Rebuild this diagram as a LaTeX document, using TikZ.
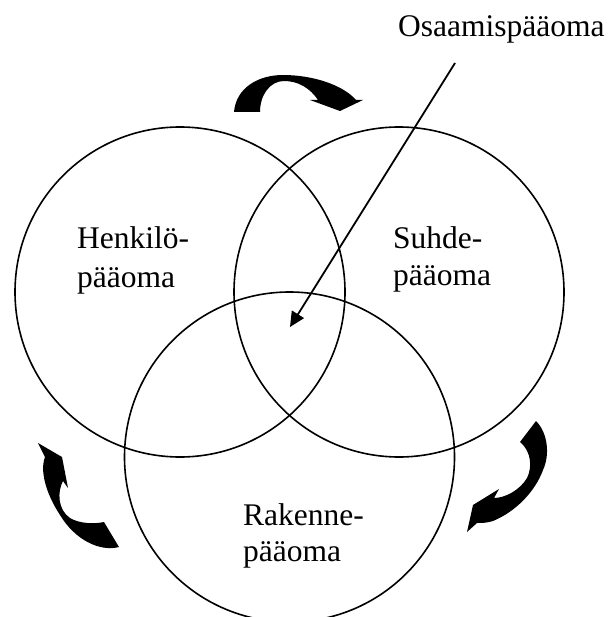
\documentclass[tikz,border=0pt]{standalone}
\usepackage{fontspec}
\setmainfont{Liberation Serif}
\usetikzlibrary{arrows.meta}

\tikzset{
  capital/.style={circle, draw, line width=1.6pt, minimum size=330pt, inner sep=0pt},
  label text/.style={anchor=base west, inner sep=0pt, font=\fontsize{31.5}{37}\selectfont},
  flow arrow/.style={fill=black, draw=none},
  pointer/.style={line width=1.8pt, -{Triangle[length=15pt,width=14pt]}}
}

\begin{document}
\begin{tikzpicture}[x=1pt,y=-1pt]
  \useasboundingbox (0,0) rectangle (610,617);
  \clip (0,0) rectangle (610,617);

  % the three overlapping kinds of capital
  \node[capital] (henk) at (180,292) {};
  \node[capital] (suhde) at (399,292) {};
  \node[capital] (rak) at (289.5,457) {};

  % circle labels
  \node[label text] (henk1) at (77,248) {Henkilö-};
  \node[label text] (henk2) at (77,287) {pääoma};
  \node[label text] (suhde1) at (393,248) {Suhde-};
  \node[label text] (suhde2) at (393,285) {pääoma};
  \node[label text] (rak1) at (243,525) {Rakenne-};
  \node[label text] (rak2) at (243,561) {pääoma};
  \node[label text] (osa) at (398,37) {Osaamispääoma};

  % pointer from the heading into the common centre
  \coordinate (osaStart) at (455,63);
  \coordinate (osaTip) at (290,327);
  \draw[pointer] (osaStart) -- (osaTip);

  % curved arrow over the top, pointing down to the right
  \fill[flow arrow] (234,112) .. controls (236,88) and (258,75) .. (283,75)
    .. controls (313,75) and (343,85) .. (356,100)
    -- (363,100) -- (340,111) -- (310,100) -- (318,100)
    .. controls (310,88) and (298,81) .. (284,81)
    .. controls (270,81) and (260,95) .. (260,112) -- cycle;

  % curved arrow at the lower left, pointing up
  \fill[flow arrow] (38,443) -- (62,457) -- (68,488) -- (63,481)
    .. controls (57,492) and (58,510) .. (70,518)
    .. controls (80,524) and (95,524) .. (104,522)
    -- (119,547)
    .. controls (100,552) and (75,540) .. (60,515)
    .. controls (45,492) and (40,470) .. (45,457) -- cycle;

  % curved arrow at the lower right, pointing down to the left
  \fill[flow arrow] (536,421) .. controls (548,433) and (550,455) .. (543,470)
    .. controls (535,492) and (515,512) .. (493,521)
    .. controls (487,523) and (481,523) .. (477,523)
    -- (467,532) -- (473,505) -- (499,489) -- (494,498)
    .. controls (505,498) and (520,490) .. (527,478)
    .. controls (532,468) and (532,452) .. (520,442) -- cycle;
\end{tikzpicture}
\end{document}
